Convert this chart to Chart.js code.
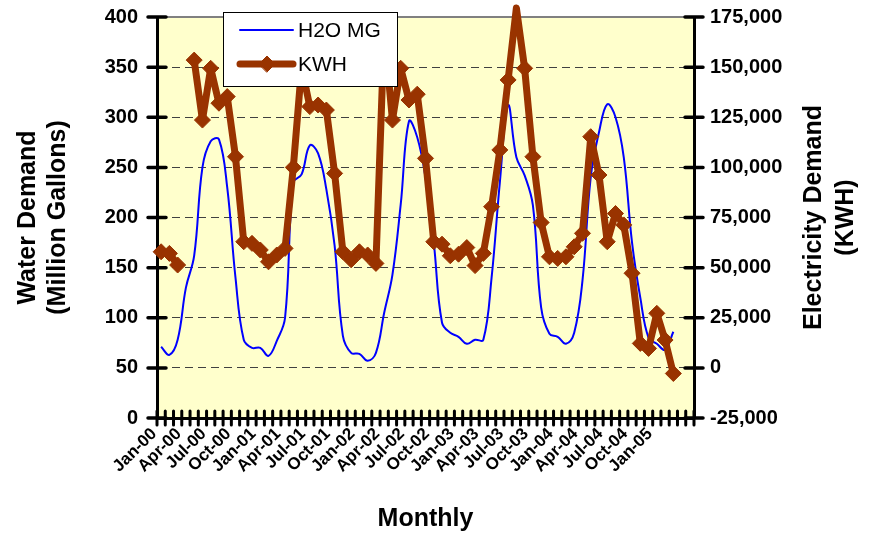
<!DOCTYPE html>
<html>
<head>
<meta charset="utf-8">
<script src="https://cdn.jsdelivr.net/npm/chart.js@4.4.1/dist/chart.umd.min.js"></script>
<style>
  body { margin: 0; background: #fff; }
  #wrap { width: 879px; height: 533px; position: relative; }
</style>
</head>
<body>
<div id="wrap"><canvas id="chart"></canvas></div>
<script>
// categories: one per month, Jan-00 .. Mar-05 plus two empty slots at the end of the axis
const months = [
    'Jan-00', 'Feb-00', 'Mar-00', 'Apr-00', 'May-00', 'Jun-00', 'Jul-00', 'Aug-00', 'Sep-00', 'Oct-00', 'Nov-00', 'Dec-00',
    'Jan-01', 'Feb-01', 'Mar-01', 'Apr-01', 'May-01', 'Jun-01', 'Jul-01', 'Aug-01', 'Sep-01', 'Oct-01', 'Nov-01', 'Dec-01',
    'Jan-02', 'Feb-02', 'Mar-02', 'Apr-02', 'May-02', 'Jun-02', 'Jul-02', 'Aug-02', 'Sep-02', 'Oct-02', 'Nov-02', 'Dec-02',
    'Jan-03', 'Feb-03', 'Mar-03', 'Apr-03', 'May-03', 'Jun-03', 'Jul-03', 'Aug-03', 'Sep-03', 'Oct-03', 'Nov-03', 'Dec-03',
    'Jan-04', 'Feb-04', 'Mar-04', 'Apr-04', 'May-04', 'Jun-04', 'Jul-04', 'Aug-04', 'Sep-04', 'Oct-04', 'Nov-04', 'Dec-04',
    'Jan-05', 'Feb-05', 'Mar-05', '', ''
];

// water demand (million gallons)
const waterMG = [
    71, 63, 78, 130, 162, 250, 276, 278, 230, 140, 78, 70,
    70, 62, 77, 100, 235, 243, 272, 264, 228, 172, 82, 65,
    64, 57, 65, 105, 143, 213, 296, 280, 240, 175, 95, 85,
    81, 74, 78, 78, 140, 235, 312, 260, 242, 212, 110, 84,
    81, 74, 85, 137, 240, 285, 313, 300, 260, 175, 120, 80,
    74, 68, 86
];

// electricity demand (KWH)
const kwh = [
    57900, 57100, 51300, null, 153500, 123600, 149400, 132000, 135300, 105300, 62900, 62100,
    58800, 52900, 56300, 59600, 100000, 150000, 130300, 131100, 128600, 97000, 57900, 53900,
    57900, 56300, 52100, 168000, 123600, 149400, 133600, 136500, 104500, 62900, 61700, 55900,
    56700, 60000, 51000, 57100, 80400, 108700, 143600, 179500, 149400, 105300, 72500, 55400,
    54600, 55400, 60400, 67100, 115300, 96200, 62900, 77000, 71300, 47200, 12200, 9700,
    27200, 13900, -2800
];

const waterTicks = [0, 50, 100, 150, 200, 250, 300, 350, 400];
const kwhTicks = [-25000, 0, 25000, 50000, 75000, 100000, 125000, 150000, 175000];

const fontFamily = "'Liberation Sans', Arial, sans-serif";
const noColor = 'rgba(0,0,0,0)';

// kuning muda di belakang area plot + garis abu-abu di atas
const plotBackground = {
    id: 'plotBackground',
    beforeDraw(chart) {
        const { ctx, chartArea: a } = chart;
        ctx.save();
        ctx.fillStyle = '#FFFFCC';
        ctx.fillRect(a.left, a.top, a.right - a.left, a.bottom - a.top);
        ctx.restore();
    },
    beforeDatasetsDraw(chart) {
        const { ctx, chartArea: a } = chart;
        ctx.save();
        ctx.strokeStyle = '#808080';
        ctx.lineWidth = 2;
        ctx.beginPath();
        ctx.moveTo(a.left, a.top);
        ctx.lineTo(a.right, a.top);
        ctx.stroke();
        ctx.restore();
    }
};

// tick marks that cross the axis lines, like the Excel original
const crossTicks = {
    id: 'crossTicks',
    afterDraw(chart) {
        const { ctx, chartArea: a, scales } = chart;
        ctx.save();
        ctx.strokeStyle = '#000';
        ctx.lineCap = 'round';
        ctx.lineWidth = 3.5;
        ctx.beginPath();
        scales.yWater.ticks.forEach(t => {
            const y = scales.yWater.getPixelForValue(t.value);
            ctx.moveTo(a.left - 9, y);
            ctx.lineTo(a.left + 9, y);
        });
        scales.yKwh.ticks.forEach(t => {
            const y = scales.yKwh.getPixelForValue(t.value);
            ctx.moveTo(a.right - 9, y);
            ctx.lineTo(a.right + 9, y);
        });
        ctx.stroke();

        const x = scales.x;
        const step = x.getPixelForValue(1) - x.getPixelForValue(0);
        ctx.lineWidth = 3;
        ctx.beginPath();
        for (let i = 0; i <= months.length; i++) {
            const px = x.getPixelForValue(0) + (i - 0.5) * step;
            ctx.moveTo(px, a.bottom - 7);
            ctx.lineTo(px, a.bottom + 7);
        }
        ctx.stroke();
        ctx.restore();
    }
};

// judul sumbu kanan dibaca dari bawah ke atas
const rightTitle = {
    id: 'rightTitle',
    afterDraw(chart) {
        const { ctx, chartArea: a } = chart;
        ctx.save();
        ctx.fillStyle = '#000';
        ctx.font = 'bold 25px ' + fontFamily;
        ctx.textAlign = 'center';
        ctx.textBaseline = 'middle';
        ctx.translate(a.right + 120, (a.top + a.bottom) / 2);
        ctx.rotate(-Math.PI / 2);
        ctx.fillText('Electricity Demand', 0, 0);
        ctx.fillText('(KWH)', 0, 32);
        ctx.restore();
    }
};

// legend with a white box and black border
const boxLegend = {
    id: 'boxLegend',
    afterDraw(chart) {
        const { ctx, chartArea: a } = chart;
        const x0 = a.left + 66, y0 = a.top - 5, w = 174, h = 74;
        ctx.save();
        ctx.fillStyle = '#fff';
        ctx.fillRect(x0, y0, w, h);
        ctx.strokeStyle = '#000';
        ctx.lineWidth = 1;
        ctx.strokeRect(x0 + 0.5, y0 + 0.5, w, h);

        chart.data.datasets.forEach((ds, i) => {
            const y = y0 + 18 + i * 34;
            ctx.strokeStyle = ds.borderColor;
            ctx.lineWidth = ds.borderWidth;
            ctx.lineCap = 'round';
            ctx.beginPath();
            ctx.moveTo(x0 + 17, y);
            ctx.lineTo(x0 + 70, y);
            ctx.stroke();
            if (ds.pointRadius) {
                ctx.fillStyle = ds.backgroundColor;
                ctx.lineWidth = 1;
                Chart.helpers.drawPoint(ctx, { pointStyle: ds.pointStyle, radius: ds.pointRadius, borderWidth: 1 }, x0 + 44, y);
            }
            ctx.fillStyle = '#000';
            ctx.font = '21px ' + fontFamily;
            ctx.textAlign = 'left';
            ctx.textBaseline = 'middle';
            ctx.fillText(ds.label, x0 + 75, y + 1);
        });
        ctx.restore();
    }
};

new Chart(document.getElementById('chart'), {
    type: 'line',
    data: {
        labels: months,
        datasets: [
            {
                label: 'H2O MG',
                data: waterMG,
                yAxisID: 'yWater',
                borderColor: '#0000FF',
                backgroundColor: '#0000FF',
                borderWidth: 2,
                pointRadius: 0,
                tension: 0.4,
                order: 2
            },
            {
                label: 'KWH',
                data: kwh,
                yAxisID: 'yKwh',
                borderColor: '#993300',
                backgroundColor: '#993300',
                borderWidth: 7,
                borderJoinStyle: 'round',
                borderCapStyle: 'round',
                pointStyle: 'rectRot',
                pointRadius: 8,
                pointBorderWidth: 1,
                spanGaps: false,
                clip: false,
                order: 1
            }
        ]
    },
    options: {
        responsive: true,
        maintainAspectRatio: false,
        animation: false,
        layout: { padding: { top: 17, left: 0, right: 0, bottom: 0 } },
        plugins: {
            legend: { display: false },
            tooltip: { enabled: false }
        },
        scales: {
            x: {
                offset: true,
                grid: { offset: true, drawOnChartArea: false, drawTicks: false },
                border: { color: '#000', width: 3 },
                ticks: {
                    autoSkip: false,
                    minRotation: 45,
                    maxRotation: 45,
                    padding: 6,
                    labelOffset: -7,
                    color: '#000',
                    font: { family: fontFamily, size: 17, weight: 'bold' },
                    callback: (value, index) => index % 3 === 0 ? months[index] : ''
                },
                title: {
                    display: true,
                    text: 'Monthly',
                    color: '#000',
                    font: { family: fontFamily, size: 25, weight: 'bold', lineHeight: 1.1 },
                    padding: { top: 0, bottom: 0 }
                },
                afterFit: scale => { scale.height = 115; }
            },
            yWater: {
                position: 'left',
                min: 0,
                max: 400,
                afterBuildTicks: scale => { scale.ticks = waterTicks.map(v => ({ value: v })); },
                grid: {
                    drawTicks: true,
                    tickLength: 17,
                    tickColor: noColor,
                    lineWidth: 1,
                    color: c => (c.tick && (c.tick.value === 0 || c.tick.value === 400)) ? noColor : '#404040'
                },
                border: { color: '#000', width: 3, dash: [8, 5] },
                ticks: {
                    padding: 2,
                    color: '#000',
                    font: { family: fontFamily, size: 20, weight: 'bold' }
                },
                title: {
                    display: true,
                    text: ['Water Demand', '(Million Gallons)'],
                    color: '#000',
                    font: { family: fontFamily, size: 25, weight: 'bold', lineHeight: 1.2 },
                    padding: { top: 13, bottom: 0 }
                },
                afterFit: scale => { scale.width = 157; }
            },
            yKwh: {
                position: 'right',
                min: -25000,
                max: 175000,
                afterBuildTicks: scale => { scale.ticks = kwhTicks.map(v => ({ value: v })); },
                grid: { drawOnChartArea: false, drawTicks: true, tickLength: 14, tickColor: noColor },
                border: { color: '#000', width: 3 },
                ticks: {
                    padding: 2,
                    color: '#000',
                    font: { family: fontFamily, size: 20, weight: 'bold' },
                    callback: value => value.toLocaleString('en-US')
                },
                afterFit: scale => { scale.width = 185; }
            }
        }
    },
    plugins: [plotBackground, crossTicks, rightTitle, boxLegend]
});
</script>
</body>
</html>
